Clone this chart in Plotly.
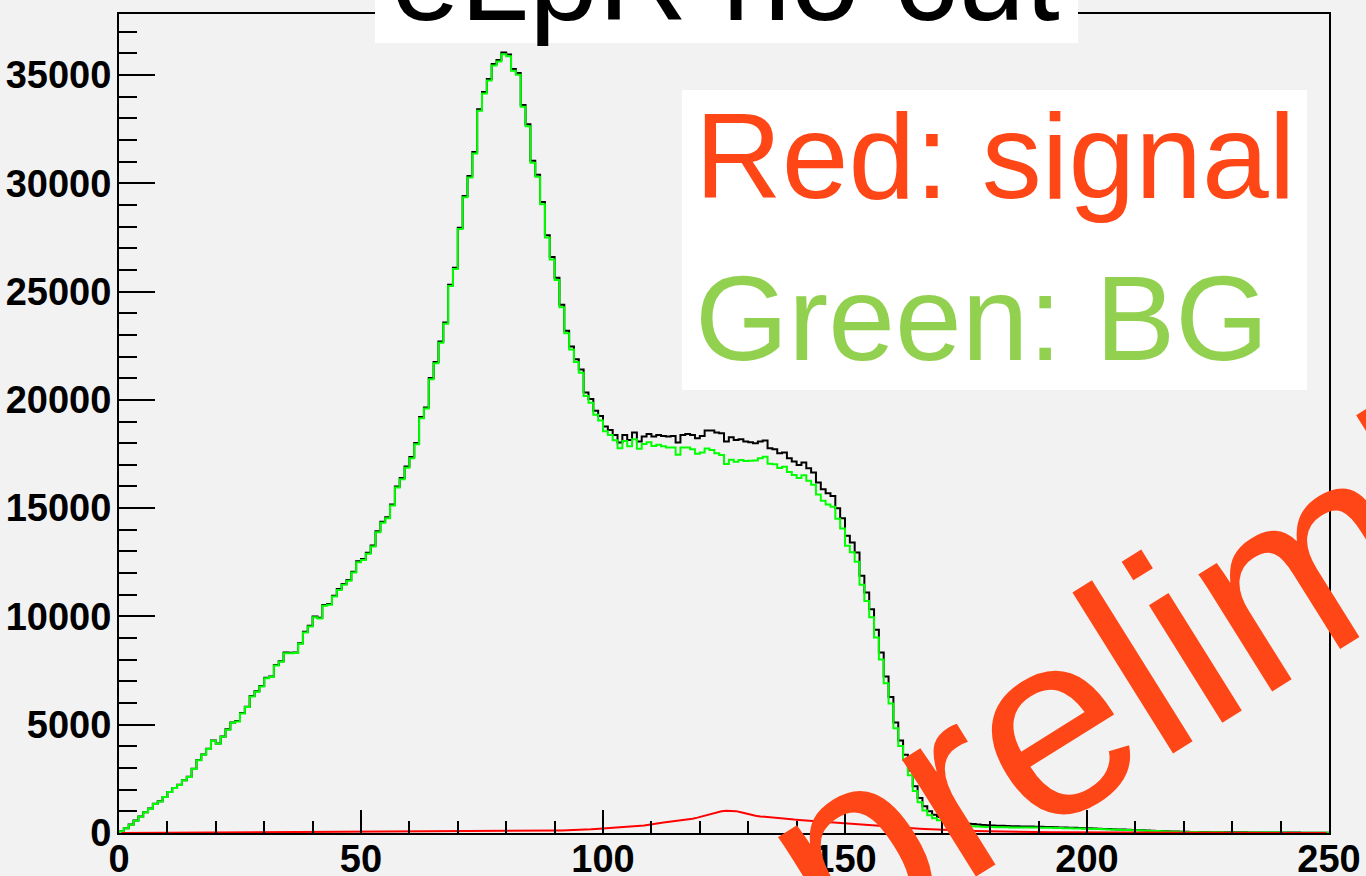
import plotly.graph_objects as go

# ---------------- data ----------------
n_bins = 250
x_min, x_max = 0, 250

bg = [
    80, 215, 385, 570, 755, 955, 1125, 1340, 1460, 1660,
    1890, 2075, 2215, 2430, 2585, 2955, 3355, 3615, 3875, 4260,
    4120, 4445, 4770, 5090, 5150, 5520, 5815, 6305, 6520, 6765,
    7150, 7200, 7735, 7905, 8305, 8300, 8310, 8735, 9260, 9535,
    9965, 9905, 10490, 10535, 10920, 11225, 11460, 11645, 12025, 12505,
    12610, 12890, 13225, 13890, 14320, 14535, 15120, 15950, 16335, 16870,
    17305, 17950, 19150, 19595, 20950, 21685, 22640, 23515, 25255, 26040,
    27885, 29350, 30270, 31375, 33345, 34145, 34745, 35435, 35620, 35960,
    35865, 35190, 35005, 33530, 32635, 30945, 30300, 29035, 27500, 26485,
    25530, 24270, 23070, 22330, 21745, 21255, 20180, 19870, 19310, 19045,
    18544, 18380, 18134, 17765, 18104, 17858, 18182, 17746, 17957, 18040,
    17872, 17924, 17853, 17797, 17803, 17470, 17794, 17805, 17719, 17515,
    17563, 17749, 17689, 17537, 17456, 17041, 17236, 17138, 17219, 17171,
    17190, 17195, 17306, 17378, 17049, 17023, 16858, 16909, 16663, 16529,
    16390, 16513, 16266, 16081, 15635, 15342, 15168, 15060, 14505, 14059,
    13259, 12967, 12520, 11463, 10714, 9965, 9032, 8006, 6919, 5985,
    4836, 4021, 3374, 2663, 1938, 1415, 1042, 825, 683, 586,
    504, 436, 367, 353, 342, 329, 314, 300, 288, 278,
    272, 270, 266, 262, 259, 258, 256, 254, 253, 250,
    247, 244, 238, 234, 228, 224, 220, 213, 206, 200,
    193, 186, 179, 172, 165, 158, 151, 144, 137, 130,
    123, 115, 108, 98, 88, 79, 71, 63, 58, 52,
    47, 44, 41, 38, 35, 34, 32, 30, 28, 27,
    26, 25, 24, 23, 23, 22, 21, 20, 19, 19,
    18, 17, 16, 15, 14, 14, 13, 12, 11, 10,
]

signal = [
    2, 3, 3, 4, 4, 5, 5, 6, 6, 7,
    7, 8, 8, 9, 10, 10, 11, 12, 12, 13,
    14, 15, 15, 16, 17, 18, 19, 20, 21, 22,
    23, 24, 25, 26, 27, 28, 29, 30, 31, 32,
    33, 34, 35, 36, 37, 38, 39, 40, 41, 42,
    43, 44, 45, 46, 47, 48, 49, 50, 51, 52,
    53, 54, 55, 56, 57, 58, 59, 60, 61, 62,
    63, 64, 65, 66, 67, 68, 70, 72, 74, 76,
    78, 80, 83, 86, 89, 92, 95, 99, 103, 107,
    111, 116, 121, 127, 133, 145, 155, 170, 190, 205,
    220, 230, 245, 260, 275, 290, 305, 325, 345, 385,
    430, 455, 480, 505, 530, 555, 585, 620, 660, 710,
    770, 830, 890, 950, 1000, 1030, 1035, 1010, 960, 900,
    850, 800, 765, 740, 715, 695, 675, 655, 640, 620,
    605, 590, 575, 560, 545, 530, 520, 505, 490, 475,
    460, 445, 430, 410, 390, 370, 350, 330, 310, 290,
    270, 255, 240, 228, 215, 200, 188, 175, 163, 152,
    142, 133, 125, 117, 110, 103, 96, 90, 84, 78,
    73, 68, 64, 60, 56, 52, 49, 46, 43, 40,
    38, 36, 34, 32, 30, 28, 26, 25, 24, 22,
    21, 20, 19, 18, 17, 16, 15, 14, 13, 12,
    11, 11, 10, 10, 10, 9, 9, 9, 8, 8,
    8, 7, 7, 7, 7, 6, 6, 6, 6, 5,
    5, 5, 5, 5, 4, 4, 4, 4, 4, 3,
    3, 3, 3, 3, 3, 2, 2, 2, 2, 2,
]

total = [
    82, 218, 388, 574, 759, 960, 1130, 1346, 1466, 1667,
    1897, 2083, 2223, 2439, 2595, 2965, 3366, 3627, 3887, 4273,
    4134, 4460, 4785, 5106, 5167, 5538, 5834, 6325, 6541, 6787,
    7173, 7224, 7760, 7931, 8332, 8328, 8339, 8765, 9291, 9567,
    9998, 9939, 10525, 10571, 10957, 11263, 11499, 11685, 12066, 12547,
    12653, 12934, 13270, 13936, 14367, 14583, 15169, 16000, 16386, 16922,
    17358, 18004, 19205, 19651, 21007, 21743, 22699, 23575, 25316, 26102,
    27948, 29414, 30335, 31441, 33412, 34213, 34815, 35507, 35694, 36036,
    35943, 35270, 35088, 33616, 32724, 31037, 30395, 29134, 27603, 26592,
    25641, 24386, 23191, 22457, 21878, 21400, 20335, 20040, 19500, 19250,
    18764, 18610, 18379, 18025, 18379, 18148, 18487, 18071, 18302, 18425,
    18302, 18379, 18333, 18302, 18333, 18025, 18379, 18425, 18379, 18225,
    18333, 18579, 18579, 18487, 18456, 18071, 18271, 18148, 18179, 18071,
    18040, 17995, 18071, 18118, 17764, 17718, 17533, 17564, 17303, 17149,
    16995, 17103, 16841, 16641, 16180, 15872, 15688, 15565, 14995, 14534,
    13719, 13412, 12950, 11873, 11104, 10335, 9382, 8336, 7229, 6275,
    5106, 4276, 3614, 2891, 2153, 1615, 1230, 1000, 846, 738,
    646, 569, 492, 470, 452, 432, 410, 390, 372, 356,
    345, 338, 330, 322, 315, 310, 305, 300, 296, 290,
    285, 280, 272, 266, 258, 252, 246, 238, 230, 222,
    214, 206, 198, 190, 182, 174, 166, 158, 150, 142,
    134, 126, 118, 108, 98, 88, 80, 72, 66, 60,
    55, 51, 48, 45, 42, 40, 38, 36, 34, 32,
    31, 30, 29, 28, 27, 26, 25, 24, 23, 22,
    21, 20, 19, 18, 17, 16, 15, 14, 13, 12,
]

x_tick_vals = [0, 50, 100, 150, 200, 250]
y_tick_vals = [0, 5000, 10000, 15000, 20000, 25000, 30000, 35000]

title_text = "eLpR no cut"
legend_lines = ["Red: signal", "Green: BG"]
watermark = "preliminary"

# ---------------- helpers ----------------
bw = (x_max - x_min) / n_bins
edges = [x_min + i * bw for i in range(n_bins + 1)]
centers = [x_min + (i + 0.5) * bw for i in range(n_bins)]


def step(vals):
    xs = [edges[0]] + edges[:-1] + [edges[-1]]
    ys = [0] + list(vals) + [vals[-1]]
    return xs, ys


fig = go.Figure()
xs, ys = step(total)
fig.add_trace(go.Scatter(x=xs, y=ys, mode="lines", line=dict(color="black", width=2, shape="hv"),
                         hoverinfo="skip"))
xs, ys = step(bg)
fig.add_trace(go.Scatter(x=xs, y=ys, mode="lines", line=dict(color="#00ff00", width=2, shape="hv"),
                         hoverinfo="skip"))
fig.add_trace(go.Scatter(x=centers, y=signal, mode="lines", line=dict(color="#ff0000", width=2),
                         hoverinfo="skip"))

W, H = 1366, 876
L, R, T, B = 119, 37, 14, 43
pw, ph = W - L - R, H - T - B


def px(xp):
    return (xp - L) / pw


def py(yp):
    return (H - B - yp) / ph


tick_font = dict(family="Liberation Sans", size=38, color="black", weight="bold")

fig.update_layout(
    width=W, height=H, autosize=False,
    margin=dict(l=L, r=R, t=T, b=B, pad=0, autoexpand=False),
    paper_bgcolor="#f2f2f2", plot_bgcolor="#f2f2f2",
    showlegend=False,
    xaxis=dict(range=[x_min, x_max], showline=True, linecolor="black", linewidth=2, mirror=True,
               ticks="inside", ticklen=23, tickwidth=2, tickcolor="black",
               tickvals=x_tick_vals, ticktext=[str(v) for v in x_tick_vals],
               tickfont=tick_font, showgrid=False, zeroline=False, ticklabelstandoff=-9,
               automargin=False,
               minor=dict(dtick=10, tick0=0, ticklen=12, tickwidth=2, tickcolor="black",
                          ticks="inside", showgrid=False)),
    yaxis=dict(range=[0, 37815], showline=True, linecolor="black", linewidth=2, mirror=True,
               ticks="inside", ticklen=36, tickwidth=2, tickcolor="black",
               tickvals=y_tick_vals, ticktext=[str(v) for v in y_tick_vals],
               tickfont=tick_font, showgrid=False, zeroline=False, ticklabelstandoff=-2,
               automargin=False,
               minor=dict(dtick=1000, tick0=0, ticklen=18, tickwidth=2, tickcolor="black",
                          ticks="inside", showgrid=False)),
    shapes=[
        dict(type="rect", xref="paper", yref="paper", x0=px(375), x1=px(1078), y0=py(43), y1=py(-60),
             fillcolor="white", line=dict(width=0), layer="above"),
        dict(type="rect", xref="paper", yref="paper", x0=px(682), x1=px(1307), y0=py(390), y1=py(90),
             fillcolor="white", line=dict(width=0), layer="above"),
    ],
)

ann = []
title_size = 124
ann.append(dict(text=title_text, xref="paper", yref="paper", x=px(726), y=py(20 - 0.3465 * title_size),
                xanchor="center", yanchor="middle", showarrow=False,
                font=dict(family="Liberation Sans", size=title_size, color="black")))
leg_size = 120
ann.append(dict(text=legend_lines[0], xref="paper", yref="paper", x=px(693), y=py(198 - 0.3465 * leg_size),
                xanchor="left", yanchor="middle", showarrow=False,
                font=dict(family="Liberation Sans", size=leg_size, color="#ff4616")))
ann.append(dict(text=legend_lines[1], xref="paper", yref="paper", x=px(693), y=py(360 - 0.3465 * leg_size),
                xanchor="left", yanchor="middle", showarrow=False,
                font=dict(family="Liberation Sans", size=leg_size, color="#92d050")))
ann.append(dict(text=watermark, xref="paper", yref="paper", x=px(1332), y=py(548),
                xanchor="center", yanchor="middle", showarrow=False, textangle=-32,
                font=dict(family="Liberation Sans", size=262, color="#ff4616")))
fig.update_layout(annotations=ann)

fig.write_html("out.html")
